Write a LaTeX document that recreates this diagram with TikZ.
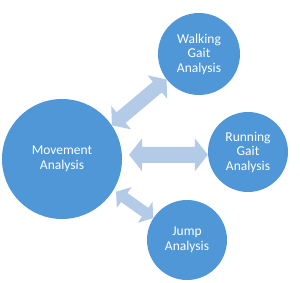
\documentclass[tikz,border=0pt]{standalone}
\usepackage{fontspec}
\setmainfont{Carlito}
\usetikzlibrary{arrows.meta}
\definecolor{circblue}{RGB}{79,151,214}
\definecolor{arrblue}{RGB}{180,203,232}
\tikzset{
  bubble/.style={circle, fill=circblue, draw=none, text=white, align=center,
    font=\fontsize{13.5}{14.5}\selectfont, inner sep=0pt},
}
\begin{document}
\begin{tikzpicture}[x=1pt,y=-1pt]
\useasboundingbox (0,0) rectangle (300,283);
\node[bubble, minimum size=120pt] (main) at (62,159) {Movement\\Analysis};
\node[bubble, minimum size=82pt] (walk) at (199,54) {Walking\\Gait\\Analysis};
\node[bubble, minimum size=80pt] (run) at (248,152) {Running\\Gait\\Analysis};
\node[bubble, minimum size=80pt] (jump) at (187,240) {Jump\\Analysis};
\draw[line width=16pt, draw=arrblue,
  {Triangle[length=13pt,width=32pt]}-{Triangle[length=13pt,width=32pt]},
  shorten <=7pt] (main.4) -- (run.184);
\draw[line width=14pt, draw=arrblue,
  {Triangle[length=12pt,width=30pt]}-{Triangle[length=12pt,width=30pt]}]
  (main.34) -- (walk.218);
\draw[line width=11pt, draw=arrblue,
  {Triangle[length=10pt,width=25pt]}-{Triangle[length=10pt,width=25pt]},
  shorten <=3pt] (main.-31) -- (jump.147);
\end{tikzpicture}
\end{document}
